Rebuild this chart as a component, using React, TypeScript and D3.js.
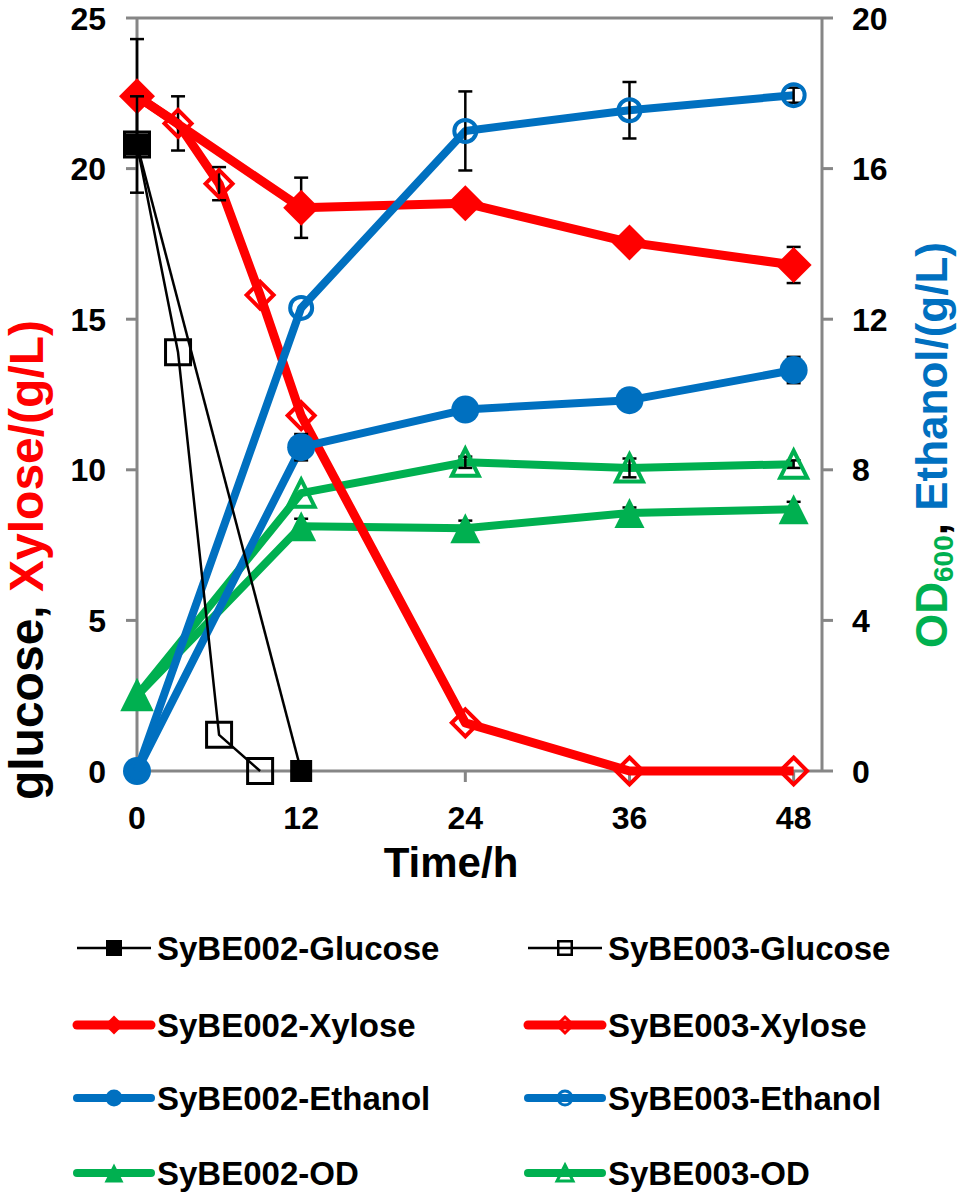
import * as d3 from 'd3';

// sampling times (h)
const timeAll = [0, 12, 24, 36, 48];
const timeGlc003 = [0, 3, 6, 9];
const timeGlc002 = [0, 12];
const timeXyl003 = [0, 3, 6, 9, 12, 24, 36, 48];

// left axis: sugars (g/L)
const glc002 = [20.8, 0];
const glc002Err = [1.6, 0];
const glc003 = [20.8, 13.9, 1.2, 0];
const glc003Err = [0, 0, 0, 0];
const xyl002 = [22.4, 18.7, 18.85, 17.55, 16.8];
const xyl002Err = [1.9, 1.0, 0, 0, 0.6];
const xyl003 = [22.4, 21.5, 19.5, 15.8, 11.8, 1.6, 0, 0];
const xyl003Err = [0, 0.9, 0.55, 0, 0, 0, 0, 0];

// right axis: ethanol (g/L) and OD600
const eth002 = [0, 8.6, 9.6, 9.85, 10.65];
const eth002Err = [0, 0.35, 0.2, 0, 0.35];
const eth003 = [0, 12.3, 17.0, 17.55, 17.95];
const eth003Err = [0, 0, 1.05, 0.75, 0.2];
const od002 = [2.0, 6.5, 6.45, 6.85, 6.95];
const od002Err = [0, 0.2, 0.2, 0.15, 0.2];
const od003 = [2.0, 7.38, 8.2, 8.05, 8.15];
const od003Err = [0, 0, 0.15, 0.25, 0.1];

const xTicks = [0, 12, 24, 36, 48];
const leftTicks = [0, 5, 10, 15, 20, 25];
const rightTicks = [0, 4, 8, 12, 16, 20];

const RED = '#ff0000';
const BLUE = '#0070c0';
const GREEN = '#00b050';
const GREY = '#868686';
const FONT = '"Liberation Sans", Arial, sans-serif';

type Marker = 'square' | 'diamond' | 'circle' | 'triangle';

interface Series {
  name: string;
  t: number[];
  v: number[];
  err: number[];
  axis: 'L' | 'R';
  color: string;
  width: number;
  marker: Marker;
  filled: boolean;
  size: number;
}

// draw order (bottom to top)
const series: Series[] = [
  { name: 'SyBE002-OD', t: timeAll, v: od002, err: od002Err, axis: 'R', color: GREEN, width: 8, marker: 'triangle', filled: true, size: 30 },
  { name: 'SyBE003-OD', t: timeAll, v: od003, err: od003Err, axis: 'R', color: GREEN, width: 8, marker: 'triangle', filled: false, size: 31 },
  { name: 'SyBE003-Xylose', t: timeXyl003, v: xyl003, err: xyl003Err, axis: 'L', color: RED, width: 9, marker: 'diamond', filled: false, size: 31 },
  { name: 'SyBE002-Xylose', t: timeAll, v: xyl002, err: xyl002Err, axis: 'L', color: RED, width: 9, marker: 'diamond', filled: true, size: 36 },
  { name: 'SyBE002-Ethanol', t: timeAll, v: eth002, err: eth002Err, axis: 'R', color: BLUE, width: 8, marker: 'circle', filled: true, size: 28 },
  { name: 'SyBE003-Ethanol', t: timeAll, v: eth003, err: eth003Err, axis: 'R', color: BLUE, width: 8, marker: 'circle', filled: false, size: 26 },
  { name: 'SyBE003-Glucose', t: timeGlc003, v: glc003, err: glc003Err, axis: 'L', color: '#000', width: 2.5, marker: 'square', filled: false, size: 28 },
  { name: 'SyBE002-Glucose', t: timeGlc002, v: glc002, err: glc002Err, axis: 'L', color: '#000', width: 2.5, marker: 'square', filled: true, size: 22 },
];

const legendLeft = ['SyBE002-Glucose', 'SyBE002-Xylose', 'SyBE002-Ethanol', 'SyBE002-OD'];
const legendRight = ['SyBE003-Glucose', 'SyBE003-Xylose', 'SyBE003-Ethanol', 'SyBE003-OD'];

const x = d3.scaleLinear().domain([0, 50]).range([137, 821]);
const yL = d3.scaleLinear().domain([0, 25]).range([771, 18]);
const yR = d3.scaleLinear().domain([0, 20]).range([771, 18]);

function markerPath(m: Marker, s: number) {
  const h = s / 2;
  if (m === 'square') return `M${-h},${-h}h${s}v${s}h${-s}Z`;
  if (m === 'diamond') return `M0,${-h}L${h},0L0,${h}L${-h},0Z`;
  if (m === 'triangle') return `M0,${-h}L${h},${h}L${-h},${h}Z`;
  return '';
}

function MarkerShape({ s, cx, cy, size, sw }: { s: Series; cx: number; cy: number; size: number; sw: number }) {
  const fill = s.filled ? s.color : 'none';
  if (s.marker === 'circle') {
    return <circle cx={cx} cy={cy} r={s.filled ? size / 2 : size / 2 - sw / 2} fill={fill} stroke={s.color} strokeWidth={s.filled ? 0 : sw} />;
  }
  const inner = s.filled ? size : size - sw;
  return (
    <path
      transform={`translate(${cx},${cy})`}
      d={markerPath(s.marker, inner)}
      fill={fill}
      stroke={s.filled ? 'none' : s.color}
      strokeWidth={sw}
      strokeLinejoin="miter"
    />
  );
}

function SeriesMarks({ s }: { s: Series }) {
  const y = s.axis === 'L' ? yL : yR;
  const line = d3.line<number>().x((_, i) => x(s.t[i])).y((d) => y(d));
  const sw = s.marker === 'square' ? 3 : 4;
  return (
    <g>
      <path d={line(s.v) || ''} fill="none" stroke={s.color} strokeWidth={s.width} strokeLinejoin="round" />
      {s.v.map((d, i) =>
        s.err[i] > 0 ? (
          <g key={'e' + i} stroke="#000" strokeWidth={2.5}>
            <line x1={x(s.t[i])} x2={x(s.t[i])} y1={y(d + s.err[i])} y2={y(d - s.err[i])} />
            <line x1={x(s.t[i]) - 7} x2={x(s.t[i]) + 7} y1={y(d + s.err[i])} y2={y(d + s.err[i])} />
            <line x1={x(s.t[i]) - 7} x2={x(s.t[i]) + 7} y1={y(d - s.err[i])} y2={y(d - s.err[i])} />
          </g>
        ) : null
      )}
      {s.v.map((d, i) => (
        <MarkerShape key={'m' + i} s={s} cx={x(s.t[i])} cy={y(d)} size={s.size} sw={sw} />
      ))}
    </g>
  );
}

function LegendItem({ s, lx, ly }: { s: Series; lx: number; ly: number }) {
  const small = s.marker === 'square' ? 16 : s.marker === 'circle' ? 17 : 19;
  return (
    <g>
      <line x1={lx} x2={lx + 74} y1={ly} y2={ly} stroke={s.color} strokeWidth={s.width} strokeLinecap={s.width > 3 ? 'round' : 'butt'} />
      <MarkerShape s={s} cx={lx + 37} cy={ly} size={small} sw={s.marker === 'square' ? 2.5 : 3} />
      <text x={lx + 80} y={ly} dy="0.36em" fontSize={33} fontWeight="bold" fill="#000">
        {s.name}
      </text>
    </g>
  );
}

export default function App() {
  const byName = (n: string) => series.find((s) => s.name === n)!;
  const legendRows = [948, 1025, 1098, 1173];
  return (
    <svg width={960} height={1197} style={{ position: 'absolute', left: 0, top: 0, background: '#fff' }} fontFamily={FONT}>
      <rect width={960} height={1197} fill="#fff" />
      {/* axes frame */}
      <g stroke={GREY} strokeWidth={3} fill="none">
        <line x1={137} x2={137} y1={18} y2={771} />
        <line x1={822} x2={822} y1={18} y2={771} />
        <line x1={137} x2={822} y1={18} y2={18} />
        <line x1={137} x2={822} y1={771} y2={771} />
        {leftTicks.map((t) => (
          <line key={'lt' + t} x1={126} x2={137} y1={yL(t)} y2={yL(t)} />
        ))}
        {rightTicks.map((t) => (
          <line key={'rt' + t} x1={822} x2={833} y1={yR(t)} y2={yR(t)} />
        ))}
        {xTicks.map((t) => (
          <line key={'xt' + t} x1={x(t)} x2={x(t)} y1={771} y2={782} />
        ))}
      </g>
      {/* tick labels */}
      <g fontSize={32} fontWeight="bold" fill="#000">
        {leftTicks.map((t) => (
          <text key={'ll' + t} x={106} y={yL(t)} dy="0.36em" textAnchor="end">
            {t}
          </text>
        ))}
        {rightTicks.map((t) => (
          <text key={'rl' + t} x={852} y={yR(t)} dy="0.36em" textAnchor="start">
            {t}
          </text>
        ))}
        {xTicks.map((t) => (
          <text key={'xl' + t} x={x(t)} y={829} textAnchor="middle">
            {t}
          </text>
        ))}
      </g>
      {/* axis titles */}
      <text x={451} y={877} textAnchor="middle" fontSize={42} fontWeight="bold">
        Time/h
      </text>
      <text transform="translate(43,560) rotate(-90)" textAnchor="middle" fontSize={48} fontWeight="bold">
        <tspan fill="#000">glucose, </tspan>
        <tspan fill={RED}>Xylose/(g/L)</tspan>
      </text>
      <text transform="translate(947,648) rotate(-90)" textAnchor="start" fontSize={44} fontWeight="bold">
        <tspan fill={GREEN}>OD</tspan>
        <tspan fill={GREEN} fontSize={28} dy={6}>600</tspan>
        <tspan fill="#000" dy={-6}>, </tspan>
        <tspan fill={BLUE}>Ethanol/(g/L)</tspan>
      </text>
      {/* series */}
      {series.map((s) => (
        <SeriesMarks key={s.name} s={s} />
      ))}
      {/* legend */}
      {legendLeft.map((n, i) => (
        <LegendItem key={n} s={byName(n)} lx={77} ly={legendRows[i]} />
      ))}
      {legendRight.map((n, i) => (
        <LegendItem key={n} s={byName(n)} lx={528} ly={legendRows[i]} />
      ))}
    </svg>
  );
}
